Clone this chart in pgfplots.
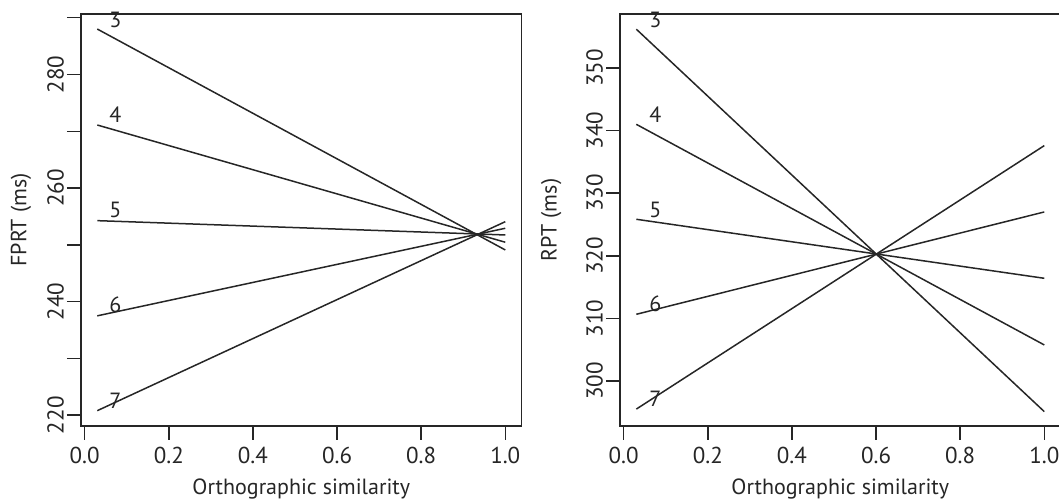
\documentclass[border=0pt]{standalone}
\usepackage{fontspec}
\setmainfont{PT Sans}
\usepackage{pgfplots}
\pgfplotsset{compat=1.18}

\definecolor{ink}{HTML}{262626}

\tikzset{lab/.style={font=\fontsize{11}{12}\selectfont, text=ink}}

\pgfplotsset{rpanel/.style={
    scale only axis,
    width=220.3pt, height=206pt,
    anchor=south west,
    clip=false,
    axis line style={line width=0.8pt, ink},
    tick style={line width=0.75pt, ink},
    tick align=outside,
    major tick length=7pt, minor tick length=7pt,
    tick pos=left,
    xmin=-0.0088, xmax=1.0388,
    xtick={0,0.2,0.4,0.6,0.8,1},
    xticklabels={0.0,0.2,0.4,0.6,0.8,1.0},
    font=\fontsize{11}{12}\selectfont,
    every tick label/.append style={text=ink, font=\fontsize{11.5}{12}\selectfont},
    yticklabel style={rotate=90, anchor=south},
    yticklabel shift=-2pt,
    /pgf/number format/assume math mode=true,
    label style={text=ink, font=\fontsize{11}{12}\selectfont},
    xlabel={Orthographic similarity},
    xlabel style={at={(axis description cs:0.5,-0.152)}, anchor=center},
    ylabel style={at={(axis description cs:-0.136,0.5)}, anchor=center},
  },
  rline/.style={ink, line width=0.75pt, no markers}
}

\begin{document}
\begin{tikzpicture}
% left panel: FPRT
\begin{axis}[rpanel, at={(40.5pt,38pt)},
    ymin=218.1, ymax=290.65,
    ytick={220,240,260,280}, minor ytick={230,250,270,290},
    ylabel={FPRT (ms)}]
\addplot[rline] coordinates {(0.03,288.0) (1,249.1)};
\addplot[rline] coordinates {(0.03,271.1) (1,250.46)};
\addplot[rline] coordinates {(0.03,254.26) (1,251.74)};
\addplot[rline] coordinates {(0.03,237.5) (1,252.92)};
\addplot[rline] coordinates {(0.03,220.8) (1,254.08)};
\node[lab] at (axis cs:0.073,289.6) {3};
\node[lab] at (axis cs:0.073,272.9) {4};
\node[lab] at (axis cs:0.073,256.1) {5};
\node[lab] at (axis cs:0.073,239.4) {6};
\node[lab] at (axis cs:0.073,222.6) {7};
\end{axis}
% right panel: RPT
\begin{axis}[rpanel, at={(310pt,38pt)},
    ymin=292.8, ymax=358.63,
    ytick={300,310,320,330,340,350},
    ylabel={RPT (ms)},
    ylabel style={at={(axis description cs:-0.156,0.5)}}]
\addplot[rline] coordinates {(0.03,356.2) (1,295.1)};
\addplot[rline] coordinates {(0.03,341.0) (1,305.75)};
\addplot[rline] coordinates {(0.03,325.83) (1,316.4)};
\addplot[rline] coordinates {(0.03,310.65) (1,327.0)};
\addplot[rline] coordinates {(0.03,295.5) (1,337.6)};
\node[lab] at (axis cs:0.075,357.7) {3};
\node[lab] at (axis cs:0.075,342.6) {4};
\node[lab] at (axis cs:0.075,327.4) {5};
\node[lab] at (axis cs:0.075,312.3) {6};
\node[lab] at (axis cs:0.075,297.2) {7};
\end{axis}
\pgfresetboundingbox
\path[use as bounding box] (0,0) rectangle (529.5pt,251pt);
\end{tikzpicture}
\end{document}
